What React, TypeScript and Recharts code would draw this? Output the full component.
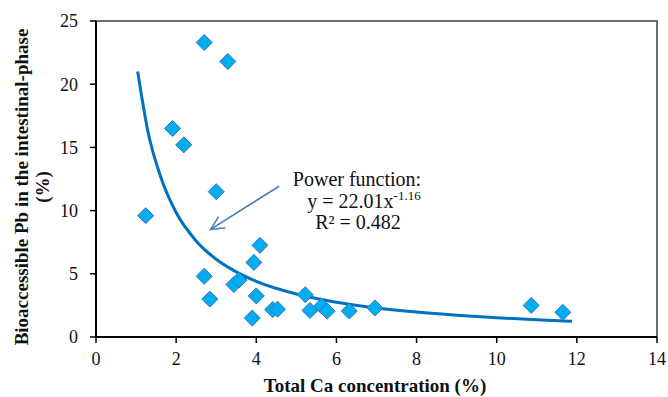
import React from "react";
import {
  ComposedChart,
  Scatter,
  Line,
  XAxis,
  YAxis,
  ReferenceArea,
  ReferenceLine,
} from "recharts";

// measured points (Total Ca %, bioaccessible Pb %)
const caValues = [
  1.24, 1.91, 2.19, 2.7, 3.29, 3.0, 2.7, 2.84, 3.44, 3.57, 3.9, 3.94, 4.09, 4.0,
  4.41, 4.53, 5.22, 5.34, 5.63, 5.77, 6.32, 6.96, 10.86, 11.65,
];
const pbValues = [
  9.6, 16.5, 15.2, 23.3, 21.8, 11.5, 4.8, 3.0, 4.15, 4.5, 1.5, 5.9, 7.25, 3.25,
  2.17, 2.2, 3.35, 2.1, 2.45, 2.05, 2.05, 2.3, 2.5, 1.95,
];

// fitted curve
const fitX = [1.04, 1.3, 1.6, 2, 2.5, 3, 3.5, 4, 5, 6, 7, 8, 9, 10, 11, 11.88];
const fitY = [21.0, 16.2, 12.8, 9.85, 7.6, 6.15, 5.15, 4.4, 3.4, 2.75, 2.3, 1.97, 1.72, 1.52, 1.36, 1.25];

const xTicks = [0, 2, 4, 6, 8, 10, 12, 14];
const yTicks = [0, 5, 10, 15, 20, 25];

// annotation arrow: tail near the text, head pointing at the curve
const arrowTail = { x: 4.57, y: 11.93 };
const arrowHead = { x: 2.86, y: 8.51 };

const points = caValues.map((x, i) => ({ x, y: pbValues[i] }));
const fit = fitX.map((x, i) => ({ x, y: fitY[i] }));

const serif = "'Liberation Serif', 'Times New Roman', serif";

const Diamond = (props: any) => {
  const { cx, cy } = props;
  const r = 8;
  return (
    <polygon
      points={`${cx},${cy - r} ${cx + r},${cy} ${cx},${cy + r} ${cx - r},${cy}`}
      fill="#00AEEF"
      stroke="#3B6FC0"
      strokeWidth={1}
    />
  );
};

const Arrow = (props: any) => {
  const { x1, y1, x2, y2 } = props;
  const ang = Math.atan2(y2 - y1, x2 - x1);
  const len = 15;
  const spread = 0.45;
  const ax = x2 - len * Math.cos(ang - spread);
  const ay = y2 - len * Math.sin(ang - spread);
  const bx = x2 - len * Math.cos(ang + spread);
  const by = y2 - len * Math.sin(ang + spread);
  return (
    <g stroke="#4A7EBB" strokeWidth={1.6} fill="none">
      <line x1={x1} y1={y1} x2={x2} y2={y2} />
      <polyline points={`${ax},${ay} ${x2},${y2} ${bx},${by}`} />
    </g>
  );
};

export default function App() {
  return (
    <div style={{ position: "absolute", left: 0, top: 0, width: 668, height: 397, background: "#fff" }}>
      <ComposedChart
        width={668}
        height={397}
        margin={{ top: 21, right: 11, left: 56, bottom: 30 }}
      >
        <XAxis
          type="number"
          dataKey="x"
          domain={[0, 14]}
          ticks={xTicks}
          height={30}
          tickSize={6}
          tickMargin={9}
          axisLine={{ stroke: "#000", strokeWidth: 2 }}
          tickLine={{ stroke: "#000", strokeWidth: 1.5 }}
          tick={{ fill: "#111", fontSize: 18, fontFamily: serif }}
          allowDataOverflow
        />
        <YAxis
          type="number"
          dataKey="y"
          domain={[0, 25]}
          ticks={yTicks}
          width={40}
          tickSize={6}
          tickMargin={12}
          axisLine={{ stroke: "#000", strokeWidth: 2 }}
          tickLine={{ stroke: "#000", strokeWidth: 1.5 }}
          tick={{ fill: "#111", fontSize: 18, fontFamily: serif }}
          allowDataOverflow
        />
        <ReferenceArea
          x1={0}
          x2={14}
          y1={0}
          y2={25}
          fill="none"
          stroke="#404040"
          strokeWidth={1.5}
          ifOverflow="visible"
        />
        <Scatter
          data={points}
          dataKey="y"
          shape={<Diamond />}
          isAnimationActive={false}
        />
        <Line
          data={fit}
          dataKey="y"
          type="monotone"
          stroke="#0070C0"
          strokeWidth={3}
          dot={false}
          activeDot={false}
          isAnimationActive={false}
        />
        <ReferenceLine
          segment={[arrowTail, arrowHead]}
          shape={<Arrow />}
          ifOverflow="visible"
        />
      </ComposedChart>
      <svg
        width={668}
        height={397}
        style={{ position: "absolute", left: 0, top: 0, pointerEvents: "none" }}
        fontFamily={serif}
      >
        <text x={357} y={186} fontSize={20} textAnchor="middle" fill="#111">
          Power function:
        </text>
        <text x={364} y={208} fontSize={20} textAnchor="middle" fill="#111">
          y = 22.01x<tspan fontSize={13} dy={-8}>-1.16</tspan>
        </text>
        <text x={358} y={229} fontSize={20} textAnchor="middle" fill="#111">
          R² = 0.482
        </text>
        <text x={375} y={392} fontSize={19} fontWeight="bold" textAnchor="middle" fill="#111">
          Total Ca concentration (%)
        </text>
        <text
          transform="translate(28,187) rotate(-90)"
          fontSize={19}
          fontWeight="bold"
          textAnchor="middle"
          fill="#111"
        >
          Bioaccessible Pb in the intestinal-phase
        </text>
        <text
          transform="translate(49,187) rotate(-90)"
          fontSize={19}
          fontWeight="bold"
          textAnchor="middle"
          fill="#111"
        >
          (%)
        </text>
      </svg>
    </div>
  );
}
